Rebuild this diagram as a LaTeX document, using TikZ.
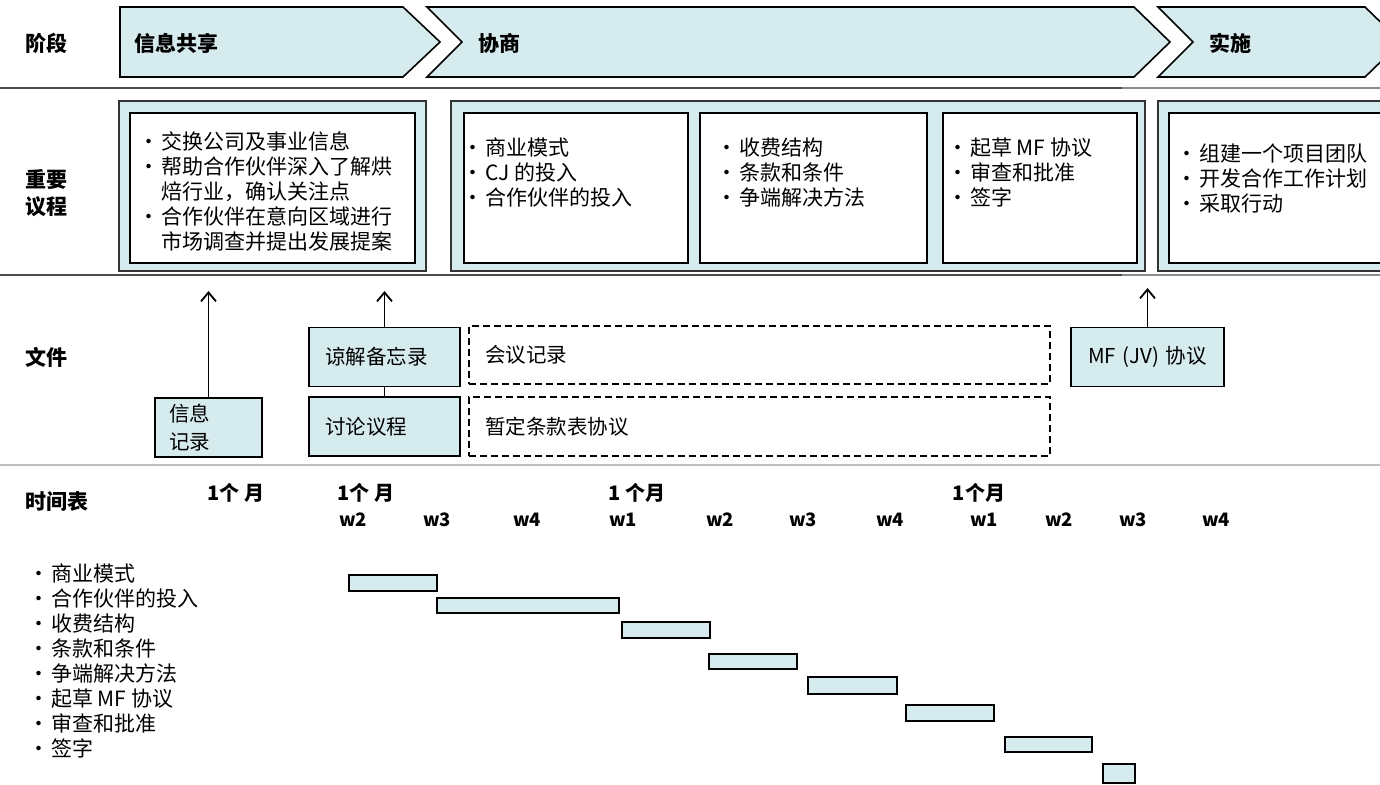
\documentclass[tikz,border=0pt]{standalone}
\usepackage{fontspec}
\setmainfont{Noto Sans CJK SC}
\usetikzlibrary{arrows.meta}

\definecolor{stageblue}{HTML}{D6EBEE}
\definecolor{rulegray}{HTML}{4A4A4A}

\newcommand{\itm}{\makebox[24pt][c]{•}}
\newcommand{\cont}{\hspace*{24pt}}

\tikzset{
  rowlabel/.style={font=\fontsize{21}{27}\selectfont\bfseries, anchor=west, inner sep=0pt, align=left},
  stagebox/.style={fill=stageblue, draw=black, line width=1.6pt},
  panel/.style={fill=stageblue, draw=black!80, line width=1.4pt},
  inbox/.style={fill=white, draw=black, line width=1.6pt},
  listtext/.style={font=\fontsize{21}{25}\selectfont, align=left, anchor=north west, inner sep=0pt},
  docbox/.style={fill=stageblue, draw=black, line width=1.6pt, font=\fontsize{20.5}{28}\selectfont, align=left, inner ysep=0pt},
  dashbox/.style={draw=black, line width=1.4pt, dash pattern=on 7pt off 4pt, font=\fontsize{20.5}{25}\selectfont, align=left, inner ysep=0pt},
  monthlabel/.style={font=\fontsize{20}{22}\selectfont\bfseries, inner sep=0pt},
  weeklabel/.style={font=\fontsize{18.5}{22}\selectfont\bfseries, inner sep=0pt},
  ganttbar/.style={fill=stageblue, draw=black, line width=1.5pt},
  uparrow/.style={-{Straight Barb[length=9pt,width=15pt,line width=1.8pt]}, line width=1.8pt},
  rule/.style={line width=2.5pt, draw=rulegray}
}

\begin{document}
\begin{tikzpicture}[x=1pt, y=-1pt]
        \useasboundingbox (0,0) rectangle (1380,784);

        % Row separators
        \draw[rule] (0,88) -- (1122,88);
        \draw[rule, draw=black!45] (1122,88) -- (1380,88);
        \draw[rule] (0,275) -- (1122,275);
        \draw[rule, draw=black!45] (1122,275) -- (1380,275);
        \draw[rule, draw=black!25] (0,465) -- (1380,465);

        % Row labels
        \node[rowlabel] (lstage) at (25,43) {阶段};
        \node[rowlabel] (lagenda) at (25,193) {重要\\议程};
        \node[rowlabel] (ldocs) at (25,357) {文件};
        \node[rowlabel] (ltime) at (25,502) {时间表};

        % Stages (chevrons)
        \draw[stagebox] (120,7) -- (403,7) -- (440,42) -- (403,77) -- (120,77) -- cycle;
        \draw[stagebox] (427,7) -- (1134,7) -- (1170,42) -- (1134,77) -- (427,77) -- (462,42) -- cycle;
        \draw[stagebox] (1158,7) -- (1365,7) -- (1401,42) -- (1365,77) -- (1158,77) -- (1193,42) -- cycle;
        \node[rowlabel] (sinfo) at (134,43) {信息共享};
        \node[rowlabel] (snego) at (478,43) {协商};
        \node[rowlabel] (simpl) at (1209,43) {实施};

        % Agenda panels
        \draw[panel] (119,101) rectangle (426,271);
        \draw[inbox] (130,113) rectangle (415,263);
        \node[listtext] (ag1) at (137,131) {\itm 交换公司及事业信息\\
            \itm 帮助合作伙伴深入了解烘\\
            \cont 焙行业，确认关注点\\
            \itm 合作伙伴在意向区域进行\\
            \cont 市场调查并提出发展提案};

        \draw[panel] (451,101) rectangle (1145,271);
        \draw[inbox] (464,113) rectangle (688,263);
        \draw[inbox] (700,113) rectangle (927,263);
        \draw[inbox] (943,113) rectangle (1137,263);
        \node[listtext] (ag2) at (461,138) {\itm 商业模式\\ \itm CJ 的投入\\ \itm 合作伙伴的投入};
        \node[listtext] (ag3) at (715,138) {\itm 收费结构\\ \itm 条款和条件\\ \itm 争端解决方法};
        \node[listtext] (ag4) at (946,138) {\itm 起草 MF 协议\\ \itm 审查和批准\\ \itm 签字};

        \draw[panel] (1158,101) rectangle (1395,271);
        \draw[inbox] (1169,113) rectangle (1395,263);
        \node[listtext] (ag5) at (1175,144) {\itm 组建一个项目团队\\ \itm 开发合作工作计划\\ \itm 采取行动};

        % Documents
        \node[docbox, minimum width=107, minimum height=59, text width=79, inner xsep=14] (info) at (208.5,427.5) {信息\\记录};
        \node[docbox, minimum width=151, minimum height=59, text width=119, inner xsep=16] (mou) at (384.5,357) {谅解备忘录};
        \node[docbox, minimum width=151, minimum height=59, text width=119, inner xsep=16] (agenda) at (384.5,426.5) {讨论议程};
        \node[dashbox, minimum width=581, minimum height=58, text width=549, inner xsep=16] (minutes) at (759.5,355) {会议记录};
        \node[dashbox, minimum width=581, minimum height=59, text width=549, inner xsep=16] (terms) at (759.5,426.5) {暂定条款表协议};
        \node[docbox, minimum width=153, minimum height=59, text width=125, inner xsep=14, align=center] (mfjv) at (1147.5,357) {MF (JV) 协议};

        % Arrows up to the agenda
        \coordinate (infotip) at (208.5,291);
        \coordinate (moutip) at (384.5,291);
        \coordinate (mftip) at (1147.5,288);
        \draw[uparrow] (info.north) -- (infotip);
        \draw[uparrow] (mou.north) -- (moutip);
        \draw[uparrow] (mfjv.north) -- (mftip);
        \draw[line width=1.4pt] (mou.south) -- (agenda.north);

        % Timeline header
        \node[monthlabel] (m1) at (236,493) {1个 月};
        \node[monthlabel] (m2) at (366,493) {1个 月};
        \node[monthlabel] (m3) at (637,493) {1 个月};
        \node[monthlabel] (m4) at (979,493) {1个月};
        \node[weeklabel] (wa) at (353,520) {w2};
        \node[weeklabel] (wb) at (437,520) {w3};
        \node[weeklabel] (wc) at (527,520) {w4};
        \node[weeklabel] (wd) at (623,520) {w1};
        \node[weeklabel] (we) at (720,520) {w2};
        \node[weeklabel] (wf) at (803,520) {w3};
        \node[weeklabel] (wg) at (890,520) {w4};
        \node[weeklabel] (wh) at (984,520) {w1};
        \node[weeklabel] (wi) at (1059,520) {w2};
        \node[weeklabel] (wj) at (1133,520) {w3};
        \node[weeklabel] (wk) at (1216,520) {w4};

        % Task list
        \node[listtext] (tasks) at (27,564) {\itm 商业模式\\ \itm 合作伙伴的投入\\ \itm 收费结构\\
            \itm 条款和条件\\ \itm 争端解决方法\\ \itm 起草 MF 协议\\ \itm 审查和批准\\ \itm 签字};

        % Gantt bars
        \draw[ganttbar] (349,575) rectangle (437,591);
        \draw[ganttbar] (437,598) rectangle (619,613);
        \draw[ganttbar] (622,622) rectangle (710,638);
        \draw[ganttbar] (709,654) rectangle (797,669);
        \draw[ganttbar] (808,677) rectangle (897,694);
        \draw[ganttbar] (906,705) rectangle (994,721);
        \draw[ganttbar] (1005,737) rectangle (1092,752);
        \draw[ganttbar] (1103,764) rectangle (1135,783);

\end{tikzpicture}
\end{document}
